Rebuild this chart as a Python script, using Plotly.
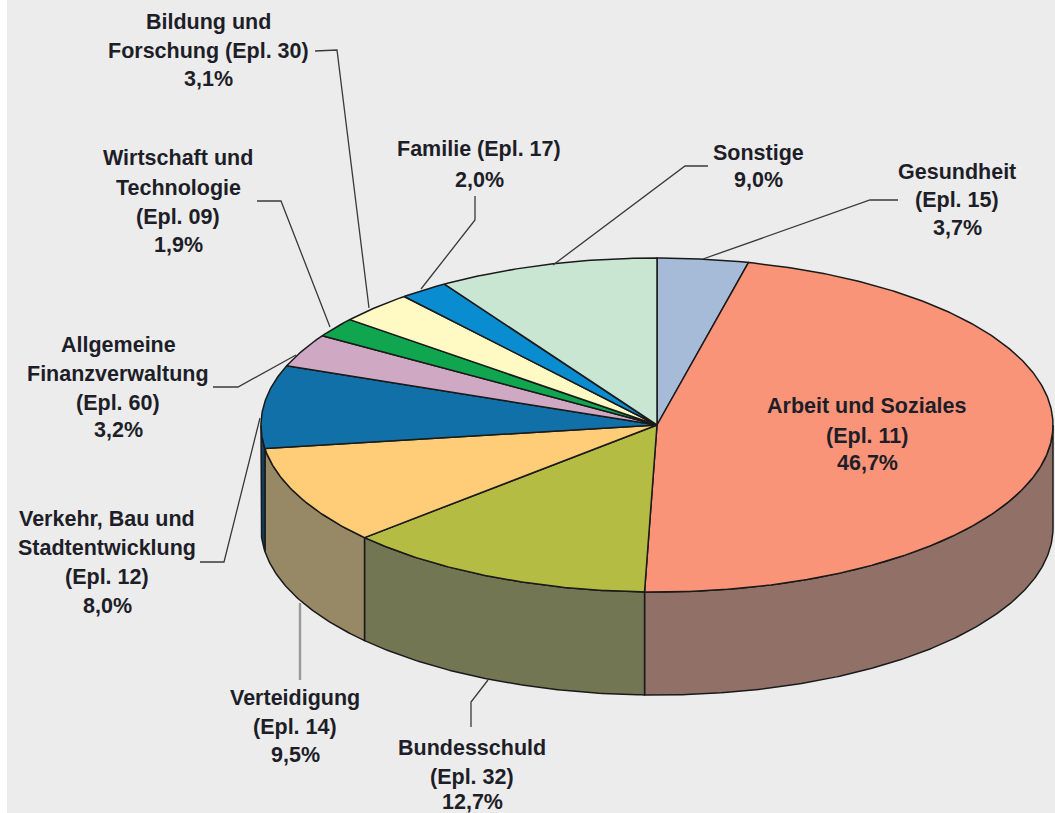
import math
import plotly.graph_objects as go

# --- data -------------------------------------------------------------
categories = ["Gesundheit", "Arbeit und Soziales", "Bundesschuld", "Verteidigung",
              "Verkehr, Bau und Stadtentwicklung", "Allgemeine Finanzverwaltung",
              "Wirtschaft und Technologie", "Bildung und Forschung", "Familie", "Sonstige"]
shares = [3.7, 46.7, 12.7, 9.5, 8.0, 3.2, 1.9, 3.1, 2.0, 9.0]
top_colors = ["#A6BBD8", "#FA9478", "#B4BC44", "#FFCC77", "#1170A8",
              "#CFA9C4", "#0FA64F", "#FFF9C4", "#0A8CD0", "#C9E6D3"]
side_colors = ["#5F6B7E", "#917068", "#727653", "#978866", "#0F3E60",
               "#7A6474", "#0A6130", "#958F70", "#06527A", "#75877B"]

label_lines = [
    ["Gesundheit", "(Epl. 15)", "3,7%"],
    ["Arbeit und Soziales", "(Epl. 11)", "46,7%"],
    ["Bundesschuld", "(Epl. 32)", "12,7%"],
    ["Verteidigung", "(Epl. 14)", "9,5%"],
    ["Verkehr, Bau und", "Stadtentwicklung", "(Epl. 12)", "8,0%"],
    ["Allgemeine", "Finanzverwaltung", "(Epl. 60)", "3,2%"],
    ["Wirtschaft und", "Technologie", "(Epl. 09)", "1,9%"],
    ["Bildung und", "Forschung (Epl. 30)", "3,1%"],
    ["Familie (Epl. 17)", "2,0%"],
    ["Sonstige", "9,0%"],
]
label_x = [957, 867, 472, 295, 107, 118, 178, 208, 479, 758]
label_y = [
    [172, 200, 228], [406, 436, 463], [748, 777, 802], [698, 727, 755],
    [519, 548, 577, 606], [345, 374, 403, 430], [158, 188, 217, 245],
    [22, 51, 79], [149, 180], [153, 180],
]
leader_x = [[898, 870, 703], None, [471, 471, 488], [300, 300], [200, 224, 260],
            [213, 238, 296], [257, 281, 330], [315, 337, 369], [475, 475, 421], [708, 685, 553]]
leader_y = [[200, 200, 259], None, [727, 702, 680], [680, 603], [562, 562, 418],
            [387, 387, 355], [201, 201, 327], [51, 50, 308], [196, 220, 289], [166, 166, 265]]

# --- geometry of the tilted pie -----------------------------------------
CX, CY, RX, RY, DEPTH = 657, 425, 396, 167, 103
OUTLINE = "#1A1A1A"


def rim(t_deg, drop=0.0):
    t = math.radians(t_deg)
    return CX + RX * math.sin(t), CY - RY * math.cos(t) + drop


def arc(a, b, drop=0.0):
    n = max(2, int(abs(b - a)) * 2 + 1)
    pts = [rim(a + (b - a) * i / (n - 1), drop) for i in range(n)]
    return [p[0] for p in pts], [p[1] for p in pts]


total = sum(shares)
bounds = [0.0]
for s in shares:
    bounds.append(bounds[-1] + s / total * 360)

fig = go.Figure()

# side walls (front half of the pie only)
for i, name in enumerate(categories):
    a, b = max(bounds[i], 90), min(bounds[i + 1], 270)
    if b <= a:
        continue
    x1, y1 = arc(a, b)
    x2, y2 = arc(b, a, DEPTH)
    fig.add_trace(go.Scatter(x=x1 + x2 + x1[:1], y=y1 + y2 + y1[:1], mode="lines", fill="toself",
                             fillcolor=side_colors[i], line=dict(color=OUTLINE, width=1.5),
                             hoverinfo="skip", showlegend=False))

# top faces
for i, name in enumerate(categories):
    xa, ya = arc(bounds[i], bounds[i + 1])
    fig.add_trace(go.Scatter(x=[CX] + xa + [CX], y=[CY] + ya + [CY], mode="lines", fill="toself",
                             fillcolor=top_colors[i], line=dict(color=OUTLINE, width=1.5),
                             name=name, text=f"{name}: {shares[i]}%", hoverinfo="text", showlegend=False))

# leader lines
for i, (lx, ly) in enumerate(zip(leader_x, leader_y)):
    if lx is None:
        continue
    fig.add_trace(go.Scatter(x=lx, y=ly, mode="lines", hoverinfo="skip", showlegend=False,
                             line=dict(color="#9A9A9A" if len(lx) == 2 else "#3A3A3A",
                                       width=2.4 if len(lx) == 2 else 1.3)))

# labels
annotations = []
for lines, x, ys in zip(label_lines, label_x, label_y):
    for line, y in zip(lines, ys):
        annotations.append(dict(x=x, y=y, xref="x", yref="y", text=f"<b>{line}</b>", showarrow=False,
                                xanchor="center", yanchor="middle",
                                font=dict(family="Liberation Sans", size=21.5, color="#1E1E28")))

fig.update_layout(
    width=1055, height=813, autosize=False,
    margin=dict(l=7, r=0, t=0, b=0),
    paper_bgcolor="white", plot_bgcolor="#ECECEC",
    xaxis=dict(range=[7, 1055], visible=False, fixedrange=True),
    yaxis=dict(range=[813, 0], visible=False, fixedrange=True),
    annotations=annotations,
    showlegend=False,
)

fig.write_html("out.html", config={"displayModeBar": False},
               post_script="document.body.style.margin='0';document.documentElement.style.overflow='hidden';")
